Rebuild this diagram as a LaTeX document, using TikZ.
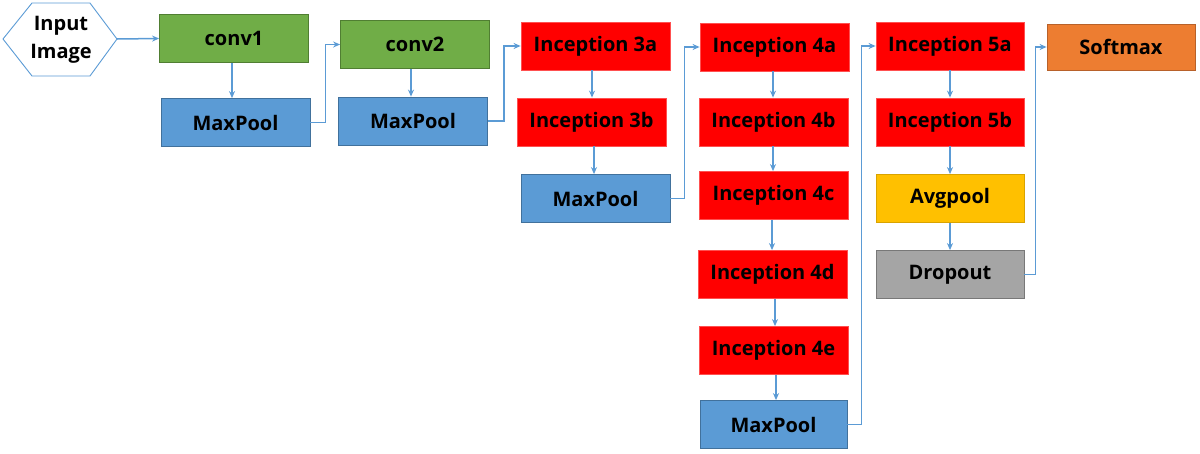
\documentclass[tikz,border=0pt]{standalone}
\usepackage{fontspec}
\setmainfont{Open Sans}
\usetikzlibrary{arrows.meta}
\definecolor{gfill}{HTML}{70AD47}\definecolor{gdraw}{HTML}{507E32}
\definecolor{bfill}{HTML}{5B9BD5}\definecolor{bdraw}{HTML}{41719C}
\definecolor{rfill}{HTML}{FF0000}\definecolor{rdraw}{HTML}{FF5050}
\definecolor{yfill}{HTML}{FFC000}\definecolor{ydraw}{HTML}{D9A300}
\definecolor{ofill}{HTML}{ED7D31}\definecolor{odraw}{HTML}{B8612A}
\definecolor{kfill}{HTML}{A5A5A5}\definecolor{kdraw}{HTML}{787878}
\definecolor{arrc}{HTML}{5B9BD5}
\begin{document}
\begin{tikzpicture}[x=1pt,y=-1pt,
  box/.style={minimum width=149pt,minimum height=48pt,inner sep=0pt,line width=0.8pt,
    font=\fontsize{20}{23}\selectfont\bfseries},
  green/.style={box,fill=gfill,draw=gdraw},
  blue/.style={box,fill=bfill,draw=bdraw},
  redb/.style={box,fill=rfill,draw=rdraw},
  yellow/.style={box,fill=yfill,draw=ydraw},
  orange/.style={box,fill=ofill,draw=odraw},
  gray/.style={box,fill=kfill,draw=kdraw},
  arr/.style={draw=arrc,line width=1.5pt,-{Stealth[length=7pt,width=6pt]}}]
\useasboundingbox (0,0) rectangle (1200,453);
% input hexagon
\draw[draw=arrc,line width=0.9pt,fill=white] (3,39) -- (32,3) -- (90,3) -- (117,39) -- (90,76) -- (32,76) -- cycle;
\node[align=center,font=\fontsize{20}{28}\selectfont\bfseries] (inp) at (61,40) {Input\\Image};
\coordinate (inR) at (117,39);
% boxes
\node[green] (conv1) at (234,38.5) {conv1};
\node[blue] (mp1) at (235.5,122.5) {MaxPool};
\node[green] (conv2) at (415,44.5) {conv2};
\node[blue] (mp2) at (413,121) {MaxPool};
\node[redb] (i3a) at (595.5,46) {Inception 3a};
\node[redb] (i3b) at (591.5,122) {Inception 3b};
\node[blue] (mp3) at (595.5,198.5) {MaxPool};
\node[redb] (i4a) at (774.5,47) {Inception 4a};
\node[redb] (i4b) at (773.5,122) {Inception 4b};
\node[redb] (i4c) at (773.5,195.5) {Inception 4c};
\node[redb] (i4d) at (772.5,274.5) {Inception 4d};
\node[redb] (i4e) at (773.5,350.5) {Inception 4e};
\node[blue,minimum width=147pt] (mp4) at (773.5,424.5) {MaxPool};
\node[redb,minimum width=148pt] (i5a) at (950,46) {Inception 5a};
\node[redb,minimum width=148pt] (i5b) at (950,122) {Inception 5b};
\node[yellow,minimum width=148pt] (avg) at (950,198.5) {Avgpool};
\node[gray,minimum width=148pt] (drop) at (950,274.5) {Dropout};
\node[orange,minimum width=148pt,minimum height=46pt] (soft) at (1121,47) {Softmax};
% connectors
\draw[arr] (inR) -- (conv1.west);
\draw[arr] (conv1.south -| 232,0) -- (mp1.north -| 232,0);
\draw[arr] (mp1.east) -- ++(15,0) |- (conv2.west);
\draw[arr] (conv2.south -| 411,0) -- (mp2.north -| 411,0);
\draw[arr] (mp2.east) -- ++(16,0) |- (i3a.west);
\draw[arr] (i3a.south -| 592,0) -- (i3b.north -| 592,0);
\draw[arr] (i3b.south -| 594,0) -- (mp3.north -| 594,0);
\draw[arr] (mp3.east) -- ++(14,0) |- (i4a.west);
\draw[arr] (i4a.south -| 773,0) -- (i4b.north -| 773,0);
\draw[arr] (i4b.south -| 773,0) -- (i4c.north -| 773,0);
\draw[arr] (i4c.south -| 772,0) -- (i4d.north -| 772,0);
\draw[arr] (i4d.south -| 775,0) -- (i4e.north -| 775,0);
\draw[arr] (i4e.south -| 776,0) -- (mp4.north -| 776,0);
\draw[arr] (mp4.east) -- ++(14,0) |- (i5a.west);
\draw[arr] (i5a.south) -- (i5b.north);
\draw[arr] (i5b.south) -- (avg.north);
\draw[arr] (avg.south) -- (drop.north);
\draw[arr] (drop.east) -- ++(11,0) |- (soft.west);
\end{tikzpicture}
\end{document}
